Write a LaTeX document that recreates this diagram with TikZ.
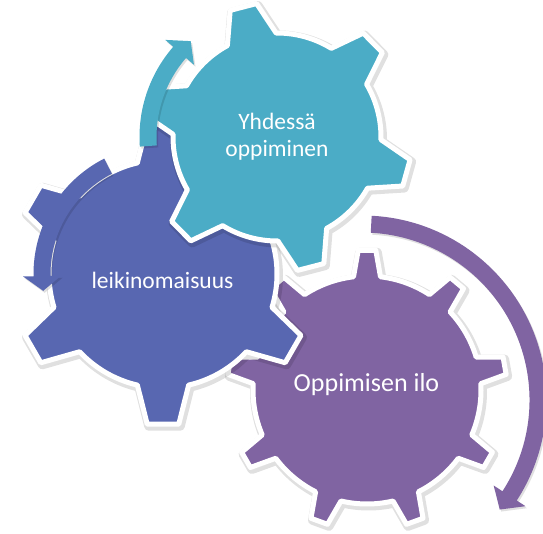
\documentclass[tikz,border=0pt]{standalone}
\usepackage{fontspec}
\setmainfont{Carlito}

\definecolor{gearteal}{HTML}{4BACC6}
\definecolor{gearblue}{HTML}{5867B1}
\definecolor{gearpurple}{HTML}{8064A2}

% teeth, first tooth angle, inner r, outer r, base half angle, tip half angle
\newcommand{\gearoutline}[6]{%
  ({#2-#5}:#3)
  \foreach \gi in {1,...,#1}{
    -- ({#2+(\gi-1)*360/#1-#6}:#4) -- ({#2+(\gi-1)*360/#1+#6}:#4)
    -- ({#2+(\gi-1)*360/#1+#5}:#3)
    arc[start angle={#2+(\gi-1)*360/#1+#5}, end angle={#2+\gi*360/#1-#5}, radius=#3]
  } -- cycle}

% radius, tail angle, head base angle, tip angle
\newcommand{\bandarrow}[4]{%
  ({#2}:{#1+8.5}) arc[start angle=#2, end angle=#3, radius=#1+8.5]
  -- ({#3}:{#1+19}) -- ({#4}:#1) -- ({#3}:{#1-19}) -- ({#3}:{#1-8.5})
  arc[start angle=#3, end angle=#2, radius=#1-8.5] -- cycle}

\tikzset{
  gear/.style={draw=white, line width=5pt, line join=round},
  gearshadow/.style={draw=black, draw opacity=.12, line width=9pt, line join=round},
  arrowshadow/.style={fill=black, fill opacity=.12},
  gearlabel/.style={text=white, align=center, font=\fontsize{23.5}{27}\selectfont}
}

\begin{document}
\begin{tikzpicture}[x=1pt, y=1pt]
  \useasboundingbox (0,0) rectangle (543,533);

  \draw[gearshadow, shift={(368.5,141)}] \gearoutline{9}{90}{114}{140}{6.8}{3.6};
  \filldraw[gear, fill=gearpurple, shift={(367,143)}] \gearoutline{9}{90}{114}{140}{6.8}{3.6};

  \draw[gearshadow, shift={(164.5,257)}] \gearoutline{6}{90}{114}{151}{13}{6};
  \filldraw[gear, fill=gearblue, shift={(163,259)}] \gearoutline{6}{90}{114}{151}{13}{6};

  \draw[gearshadow, shift={(278.5,394)}] \gearoutline{6}{104.5}{104}{135}{14}{5.8};
  \filldraw[gear, fill=gearteal, shift={(277,396)}] \gearoutline{6}{104.5}{104}{135}{14}{5.8};

  \fill[arrowshadow, shift={(278.5,394)}] \bandarrow{129}{184}{139}{132};
  \fill[gearteal, shift={(277,396)}] \bandarrow{129}{184}{139}{132};

  \fill[arrowshadow, shift={(164.5,257)}] \bandarrow{121}{117}{181}{188};
  \fill[gearblue, shift={(163,259)}] \bandarrow{121}{117}{181}{188};

  \fill[arrowshadow, shift={(363.5,131)}] \bandarrow{176}{87}{-33}{-38.5};
  \fill[gearpurple, shift={(362,133)}] \bandarrow{176}{87}{-33}{-38.5};

  \node[gearlabel] (yhdessa) at (277,396) {Yhdessä\\oppiminen};
  \node[gearlabel] (leikki) at (162.5,253) {leikinomaisuus};
  \node[gearlabel, font=\fontsize{26}{30}\selectfont] (ilo) at (366.5,148) {Oppimisen ilo};
\end{tikzpicture}
\end{document}
